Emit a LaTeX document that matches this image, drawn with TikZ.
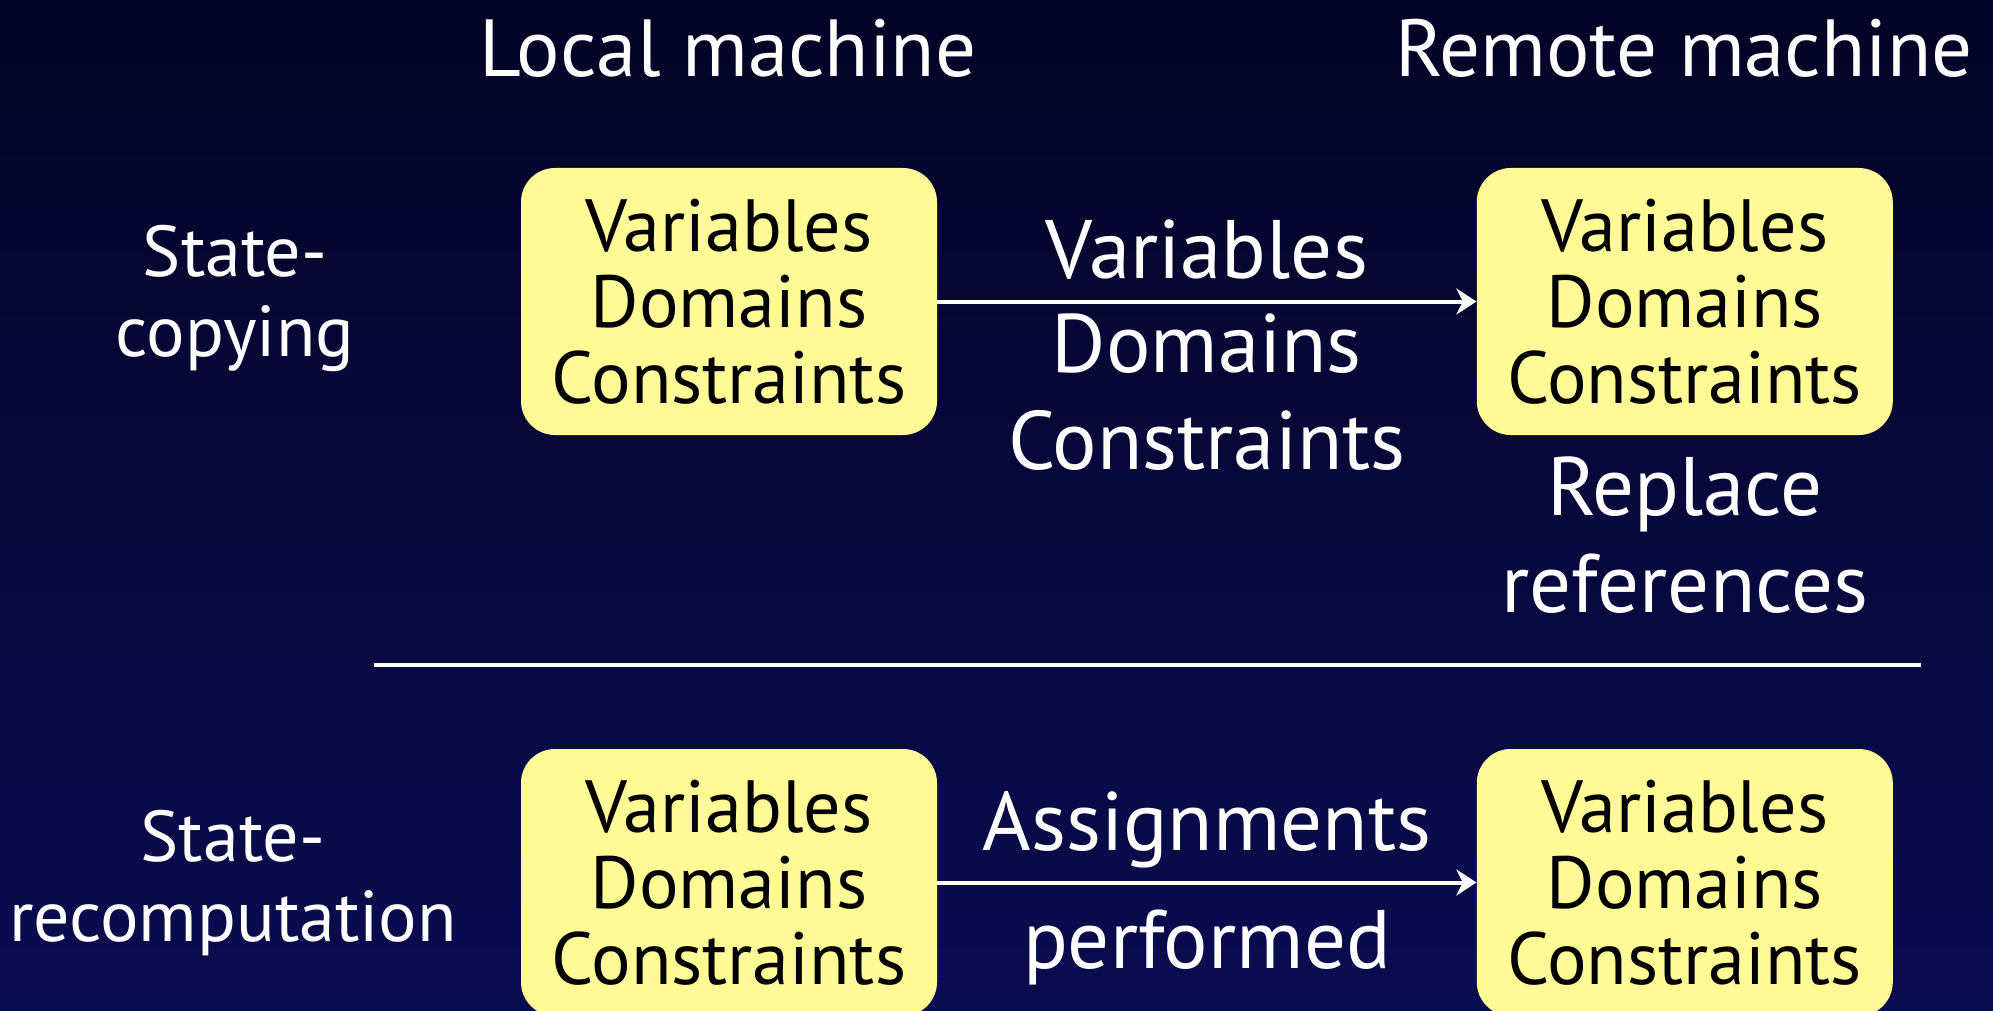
\documentclass[tikz,border=0pt]{standalone}
\usepackage{fontspec}
\setmainfont{PT Sans}
\usetikzlibrary{arrows.meta,positioning}

\definecolor{slidetop}{RGB}{4,4,38}
\definecolor{slidebot}{RGB}{10,12,80}
\definecolor{boxfill}{RGB}{255,250,150}

\begin{document}
\begin{tikzpicture}[
  x=0.5pt, y=-0.5pt,
  box/.style={fill=boxfill, rounded corners=17pt, align=center, text=black,
              minimum width=208pt, minimum height=133.5pt, inner sep=0pt,
              font=\fontsize{37}{38}\selectfont},
  lab/.style={text=white, align=center, inner sep=2pt,
              font=\fontsize{41.5}{48.5}\selectfont},
  row/.style={text=white, align=center, font=\fontsize{36}{40}\selectfont},
  head/.style={text=white, font=\fontsize{40.5}{42}\selectfont},
  arr/.style={-{Stealth[length=10pt, width=13pt]}, white, line width=2pt},
  sep/.style={white, line width=2pt}
]

% ---------- slide background ----------
\shade[top color=slidetop, bottom color=slidebot] (0,0) rectangle (1993,1011);
\useasboundingbox (0,0) rectangle (1993,1011);

% ---------- column heads ----------
\node[head] (localhd) at (728,48) {Local machine};
\node[head] (remotehd) at (1684,48) {Remote machine};

% ---------- state-copying ----------
\node[row] (copying) at (235,298) {State-\\copying};
\node[box] (loc1) at (729,301.5) {Variables\\Domains\\Constraints};
\node[box, right=269.5pt of loc1] (rem1) {Variables\\Domains\\Constraints};

\draw[arr] (loc1) -- node[lab, above=8pt]{Variables}
                     node[lab, below=3pt]{Domains\\Constraints} (rem1);

\node[lab, below=8.5pt of rem1] (replref) {Replace\\references};

% ---------- divider ----------
\coordinate (sepL) at (374,665);
\coordinate (sepR) at (1921,665);
\draw[sep] (sepL) -- (sepR);

% ---------- state-recomputation ----------
\node[row] (recomp) at (233,883) {State-\\recomputation};
\node[box] (loc2) at (729,882.5) {Variables\\Domains\\Constraints};
\node[box, right=269.5pt of loc2] (rem2) {Variables\\Domains\\Constraints};

\draw[arr] (loc2) -- node[lab, above=4pt]{Assignments}
                     node[lab, below=10.5pt]{performed} (rem2);

\end{tikzpicture}
\end{document}
